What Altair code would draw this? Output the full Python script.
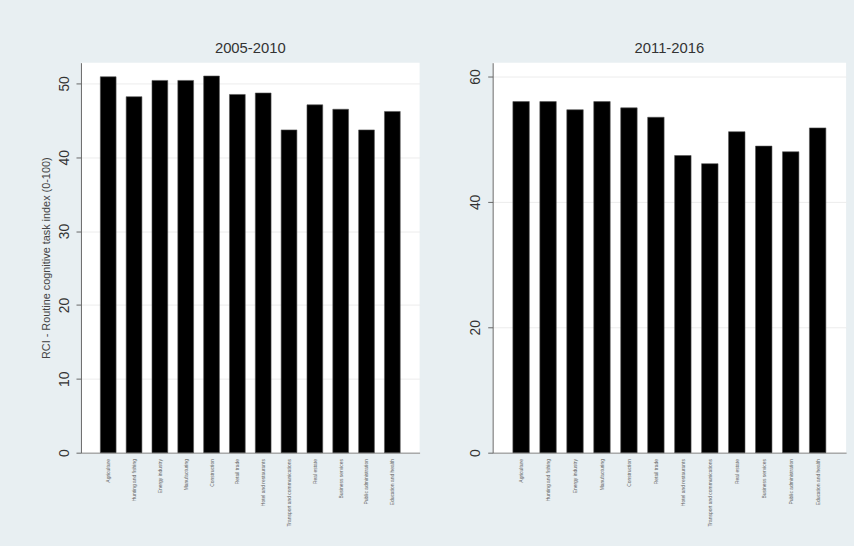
import altair as alt
import pandas as pd

categories = [
    "Agriculture", "Hunting and fishing", "Energy industry", "Manufacturing",
    "Construction", "Retail trade", "Hotel and restaurants",
    "Transport and communications", "Real estate", "Business services",
    "Public administration", "Education and health",
]
values_2005_2010 = [50.9, 48.2, 50.4, 50.4, 51.0, 48.5, 48.7, 43.7, 47.1, 46.5, 43.7, 46.2]
values_2011_2016 = [56.0, 56.0, 54.7, 56.0, 55.0, 53.5, 47.4, 46.1, 51.2, 48.9, 48.0, 51.8]
ticks_left = [0, 10, 20, 30, 40, 50]
ticks_right = [0, 20, 40, 60]
y_title = "RCI - Routine cognitive task index (0-100)"

FONT = "Liberation Sans"


def panel(values, title, dmax, ticks, ytitle, width):
    df = pd.DataFrame({"sector": categories, "rci": values})
    yaxis = dict(
        values=ticks, labelAngle=-90, labelFontSize=14, labelColor="#333333",
        labelFont=FONT, tickSize=5, tickColor="#666666", domainColor="#666666",
        labelPadding=5, grid=True, gridColor="#ececec", labelAlign="center",
        labelBaseline="bottom",
    )
    if ytitle:
        yaxis.update(title=ytitle, titleFontSize=11, titleFont=FONT,
                     titleColor="#444444", titleFontWeight="normal", titlePadding=6)
    else:
        yaxis.update(title=None)
    return (
        alt.Chart(df)
        .mark_bar(color="black", stroke="#555555", strokeWidth=0.6)
        .encode(
            x=alt.X(
                "sector:N", sort=categories,
                scale=alt.Scale(paddingInner=0.39, paddingOuter=0.75),
                axis=alt.Axis(title=None, labelAngle=-90, labelFontSize=5,
                              labelColor="#666666", labelFont=FONT, ticks=False,
                              labelPadding=6, domainColor="#888888", labelLimit=0,
                              grid=False),
            ),
            y=alt.Y(
                "rci:Q",
                scale=alt.Scale(domain=[0, dmax], nice=False, zero=True),
                axis=alt.Axis(**yaxis),
            ),
        )
        .properties(
            width=width, height=395,
            title=alt.TitleParams(title, fontSize=15, font=FONT, color="#333333",
                                  fontWeight="normal", offset=7),
        )
    )


left = panel(values_2005_2010, "2005-2010", 52.8, ticks_left, y_title, 343)
right = panel(values_2011_2016, "2011-2016", 62.2, ticks_right, None, 358)

chart = (
    alt.hconcat(left, right, spacing=49)
    .properties(padding={"left": 41, "top": 38, "right": 8, "bottom": 16},
                background="#e8eff2")
    .configure_view(fill="white", stroke=None)
)

chart.save("out.html", embed_options={"renderer": "svg", "actions": False})
